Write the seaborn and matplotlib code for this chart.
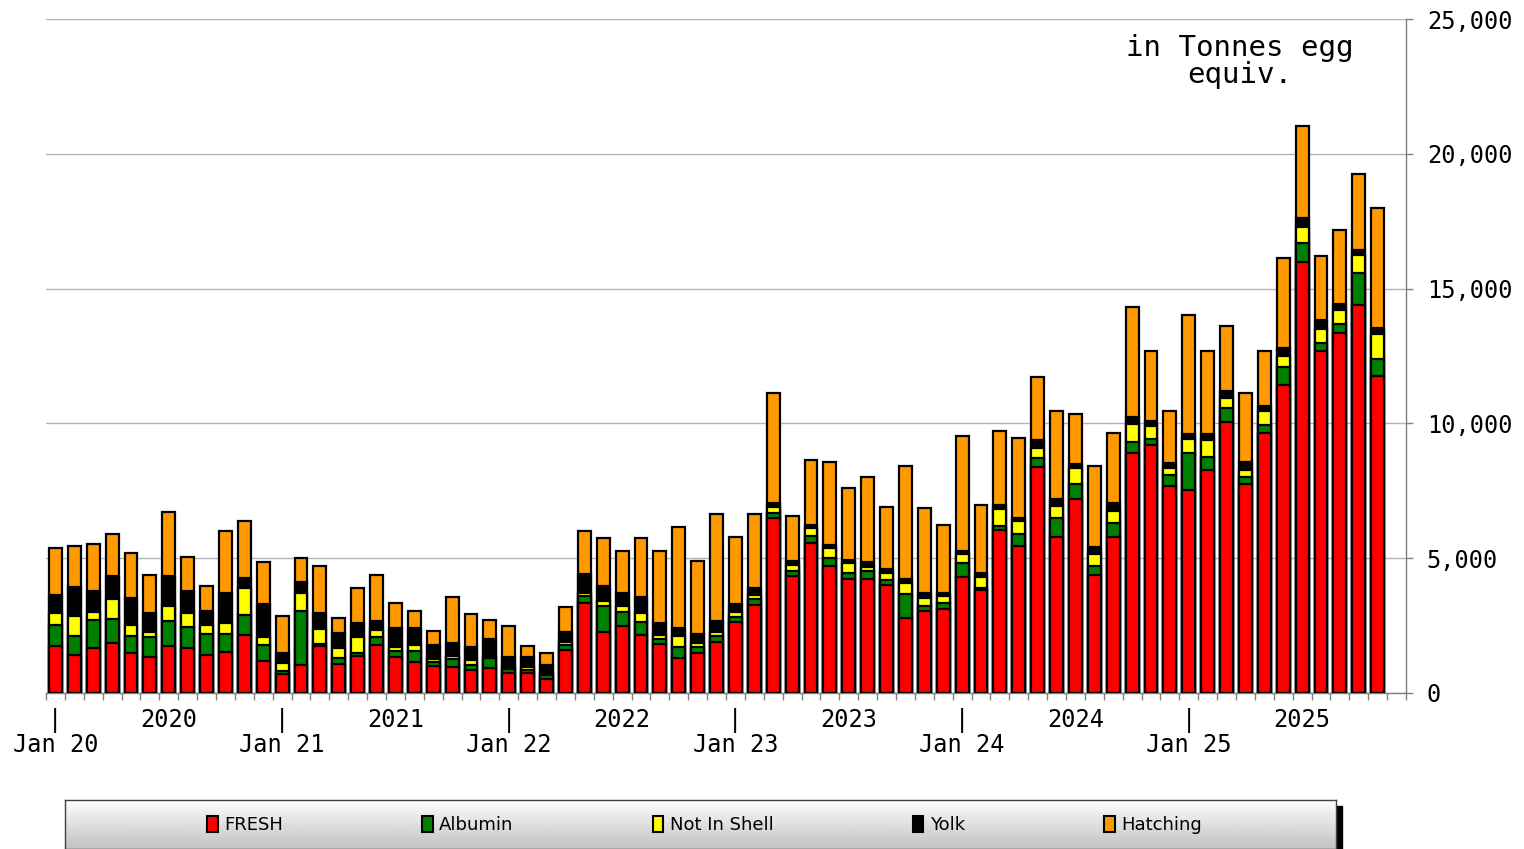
import numpy as np
import pandas as pd
import matplotlib
matplotlib.use("Agg")
import matplotlib.pyplot as plt
from matplotlib.patches import Patch, Rectangle
from matplotlib.ticker import FuncFormatter, FixedLocator
import seaborn as sns

# monthly imports, tonnes egg equivalent, Jan 2020 .. Nov 2025
fresh = [1750, 1410, 1670, 1870, 1470, 1350, 1740, 1670, 1400, 1530, 2150, 1200,
         700, 1040, 1750, 1080, 1370, 1780, 1320, 1140, 1000, 980, 850, 920,
         730, 760, 520, 1590, 3330, 2270, 2500, 2150, 1810, 1310, 1490, 1880,
         2640, 3270, 6500, 4350, 5550, 4710, 4220, 4220, 4010, 2770, 3050, 3120,
         4290, 3830, 6030, 5470, 8370, 5800, 7180, 4380, 5800, 8890, 9200, 7680,
         7530, 8270, 10050, 7760, 9640, 11430, 15990, 12700, 13360, 14400, 11770]
albumin = [770, 700, 1040, 860, 640, 720, 930, 790, 780, 650, 740, 580,
           120, 2010, 60, 210, 120, 290, 250, 430, 160, 270, 190, 370,
           150, 100, 150, 190, 280, 960, 520, 490, 180, 410, 230, 250,
           190, 230, 170, 190, 270, 290, 220, 310, 180, 900, 180, 230,
           520, 80, 180, 420, 330, 680, 560, 340, 490, 430, 220, 410,
           1360, 490, 520, 260, 310, 650, 690, 280, 310, 1180, 620]
not_in_shell = [440, 760, 310, 770, 410, 200, 560, 500, 340, 400, 1020, 290,
                280, 650, 580, 370, 580, 270, 150, 210, 90, 120, 180, 60,
                100, 120, 20, 100, 90, 190, 220, 320, 160, 410, 150, 140,
                190, 140, 220, 190, 290, 370, 370, 150, 270, 400, 280, 250,
                350, 400, 600, 490, 370, 460, 590, 440, 470, 660, 490, 240,
                520, 620, 390, 250, 510, 430, 600, 520, 530, 670, 930]
yolk = [670, 1050, 770, 840, 990, 690, 1110, 830, 520, 1140, 340, 1230,
        390, 430, 560, 550, 540, 340, 680, 620, 530, 470, 500, 640,
        340, 340, 350, 370, 700, 550, 460, 610, 460, 270, 320, 400,
        270, 240, 170, 150, 120, 120, 120, 190, 130, 160, 190, 100,
        120, 130, 160, 100, 310, 240, 160, 240, 300, 250, 180, 190,
        200, 230, 230, 290, 190, 270, 330, 330, 240, 180, 230]
hatching = [1760, 1540, 1750, 1550, 1690, 1420, 2360, 1270, 930, 2300, 2120, 1550,
            1370, 870, 1750, 580, 1270, 1700, 950, 650, 530, 1710, 1210, 720,
            1180, 430, 430, 950, 1620, 1770, 1570, 2170, 2660, 3750, 2720, 3960,
            2510, 2760, 4060, 1670, 2410, 3090, 2690, 3150, 2320, 4190, 3150, 2530,
            4250, 2530, 2760, 2970, 2350, 3290, 1860, 3020, 2600, 4090, 2600, 1950,
            4400, 3090, 2430, 2550, 2050, 3360, 3420, 2390, 2730, 2830, 4440]

series = ["FRESH", "Albumin", "Not In Shell", "Yolk", "Hatching"]
colors = ["#FF0000", "#008000", "#FFFF00", "#000000", "#FF9900"]

months = pd.date_range("2020-01-01", periods=len(fresh), freq="MS")
df = pd.DataFrame({"month": months.strftime("%Y-%m"), "FRESH": fresh,
                   "Albumin": albumin, "Not In Shell": not_in_shell,
                   "Yolk": yolk, "Hatching": hatching})
cum = df[series].cumsum(axis=1)
cum["month"] = df["month"]

sns.set_style("white")
plt.rcParams["font.family"] = ["DejaVu Sans Mono", "DejaVu Sans"]
plt.rcParams["text.color"] = "black"
plt.rcParams["xtick.labelcolor"] = "black"
plt.rcParams["ytick.labelcolor"] = "black"

W, H = 1524, 849
fig = plt.figure(figsize=(W / 100, H / 100), dpi=100)
ax = fig.add_axes([46 / W, (H - 693) / H, (1406 - 46) / W, (693 - 19) / H])

# stacked bars: draw cumulative totals back to front
for name, col in reversed(list(zip(series, colors))):
    sns.barplot(data=cum, x="month", y=name, order=list(df["month"]),
                color=col, saturation=1, edgecolor="black", linewidth=1.6,
                width=0.68, errorbar=None, ax=ax, zorder=3)

n = len(df)
ax.set_xlim(-0.5, n + 0.5)
ax.set_ylim(0, 25000)
ax.set_xlabel("")
ax.set_ylabel("")

# y axis on the right
ax.yaxis.tick_right()
ax.set_yticks(np.arange(0, 25001, 5000))
ax.yaxis.set_major_formatter(FuncFormatter(lambda v, p: f"{v:,.0f}"))
ax.tick_params(axis="y", which="major", direction="out", length=5, width=1,
               color="#808080", pad=10, labelsize=17, right=True, left=False)
ax.grid(axis="y", color="#b4b4b4", linewidth=1, zorder=0)
ax.set_axisbelow(True)

for s in ["top", "left"]:
    ax.spines[s].set_visible(False)
for s in ["right", "bottom"]:
    ax.spines[s].set_color("#808080")
    ax.spines[s].set_linewidth(1)

# x axis: boundary ticks, Jan markers and year labels
jan_pos = [i for i in range(n) if months[i].month == 1]
jul_pos = [i for i in range(n) if months[i].month == 7]
pos = sorted(jan_pos + jul_pos)
labels = []
for i in pos:
    if months[i].month == 1:
        labels.append("|\n" + months[i].strftime("Jan %y"))
    else:
        labels.append(months[i].strftime("%Y") + "\n ")
ax.xaxis.set_major_locator(FixedLocator(pos))
ax.set_xticklabels(labels, fontsize=17, linespacing=1.0)
ax.xaxis.set_minor_locator(FixedLocator(np.arange(-0.5, n + 1, 1)))
ax.tick_params(axis="x", which="major", length=0, pad=11)
ax.tick_params(axis="x", which="minor", direction="out", length=5, width=1,
               color="#808080", bottom=True)

ax.text(0.878, 0.978, "in Tonnes egg\nequiv.", transform=ax.transAxes,
        ha="center", va="top", fontsize=21, linespacing=0.95)

# legend box with gradient and shadow
fig.patches.append(Rectangle((1336 / W, 0), 6 / W, (H - 806) / H,
                             transform=fig.transFigure, color="black", zorder=1))
lax = fig.add_axes([65 / W, 0, (1336 - 65) / W, (H - 800) / H], zorder=2)
grad = np.linspace(0.99, 0.76, 64).reshape(-1, 1)
lax.imshow(grad, cmap="gray", vmin=0, vmax=1, aspect="auto", extent=[0, 1, 0, 1])
lax.set_xticks([])
lax.set_yticks([])
for s in lax.spines.values():
    s.set_color("#404040")
    s.set_linewidth(1)

handles = [Patch(facecolor=c, edgecolor="black", linewidth=1.5, label=s)
           for s, c in zip(series, colors)]
fig.legend(handles=handles, loc="center left",
           bbox_to_anchor=(207 / W, 1 - 825 / H), ncol=5, frameon=False,
           borderpad=0, borderaxespad=0, handlelength=0.6, handleheight=1.0,
           handletextpad=0.35, columnspacing=7.7,
           prop={"family": "DejaVu Sans", "size": 13})

plt.savefig("out.png", dpi=100, facecolor="white")
plt.close()
